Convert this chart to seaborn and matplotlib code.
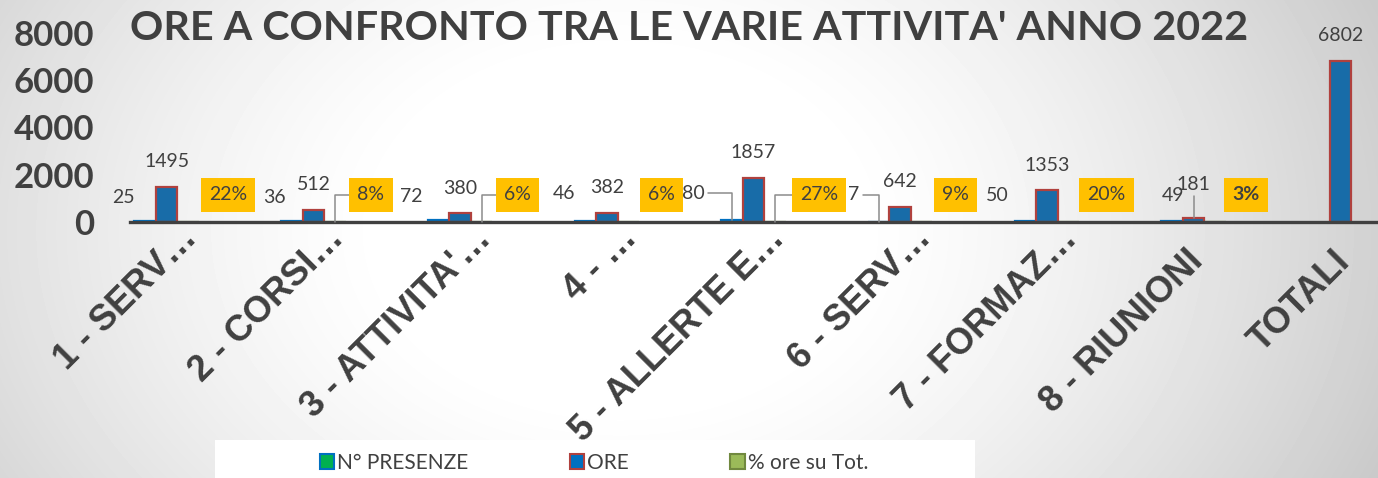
import numpy as np
import pandas as pd
import seaborn as sns
import matplotlib.pyplot as plt
from matplotlib.patches import Patch, Rectangle
from matplotlib.transforms import ScaledTranslation

# ======================================================
# DATI
# ======================================================

categorie = ["1 - SERV…", "2 - CORSI…", "3 - ATTIVITA'…", "4 - …", "5 - ALLERTE E…",
             "6 - SERV…", "7 - FORMAZ…", "8 - RIUNIONI", "TOTALI"]
presenze = [25, 36, 72, 46, 80, 7, 50, 49]
ore = [1495, 512, 380, 382, 1857, 642, 1353, 181, 6802]
perc_ore = [22, 8, 6, 6, 27, 9, 20, 3]

serie = ["N° PRESENZE", "ORE", "% ore su Tot."]
titolo = "ORE A CONFRONTO TRA LE VARIE ATTIVITA' ANNO 2022"

# ======================================================
# TABELLA (categorie su slot pari, slot dispari vuoti)
# ======================================================

righe = []
for i, v in enumerate(presenze):
    righe.append({"pos": 2 * i, "serie": serie[0], "valore": v})
for i, v in enumerate(ore):
    righe.append({"pos": 2 * i, "serie": serie[1], "valore": v})
for i, v in enumerate(perc_ore):
    righe.append({"pos": 2 * i, "serie": serie[2], "valore": v / 100})
df = pd.DataFrame(righe)

# ======================================================
# STILE
# ======================================================

sns.set_style("white")
plt.rcParams["font.family"] = ["Lato", "DejaVu Sans"]
grigio = "#404040"

fill = ["#00B050", "#0070C0", "#9BBB59"]
bordi = ["#0070C0", "#B0413E", "#71893F"]

W, H = 1378, 478
fig = plt.figure(figsize=(W / 100, H / 100), dpi=100)

# sfondo sfumato radiale
bg = fig.add_axes([0, 0, 1, 1], zorder=-10)
yy, xx = np.mgrid[0:H, 0:W]
r = np.hypot((xx - 620) / 760, (yy - 230) / 560)
scuro = 0.289 * np.clip(r - 0.3, 0, None) ** 1.33
bg.imshow(np.clip(1 - scuro, 0, 1), cmap="gray", vmin=0, vmax=1, aspect="auto")
bg.axis("off")

ax = fig.add_axes([130 / W, 256 / H, 1247 / W, 189 / H])
ax.set_facecolor("none")

sns.barplot(
    data=df, x="pos", y="valore", hue="serie", hue_order=serie,
    native_scale=True, width=0.44, palette=fill, errorbar=None,
    legend=False, ax=ax
)

for cont, col in zip(ax.containers, bordi):
    for b in cont:
        b.set_edgecolor(col)
        b.set_linewidth(1.6)

# ======================================================
# ASSI
# ======================================================

ax.set_xlim(-0.5, 16.5)
ax.set_ylim(0, 8000)
ax.set_xlabel("")
ax.set_ylabel("")
for s in ["top", "right", "left"]:
    ax.spines[s].set_visible(False)
ax.spines["bottom"].set_color(grigio)
ax.spines["bottom"].set_linewidth(2.4)

ax.set_yticks(range(0, 8001, 2000))
ax.set_yticklabels([str(v) for v in range(0, 8001, 2000)],
                   fontsize=25, fontweight="bold", color=grigio)
ax.tick_params(axis="y", length=0, pad=26)

ax.set_xticks([2 * i for i in range(len(categorie))])
ax.set_xticks(np.arange(-0.5, 17, 1), minor=True)
ax.set_xticklabels(categorie, rotation=45, ha="right", va="top",
                   rotation_mode="anchor", fontsize=26, fontweight="bold",
                   color=grigio, family="Liberation Sans")
ax.tick_params(axis="x", which="major", length=0, pad=20)
ax.tick_params(axis="x", which="minor", length=7.5, width=2.2, color=grigio)

# etichette troncate (…) sporgono oltre il centro come in Excel
for t in ax.get_xticklabels():
    if t.get_text().endswith("…"):
        dx, dy = 13, 29
    else:
        dx, dy = -8, 6
    t.set_transform(t.get_transform() + ScaledTranslation(dx / 100, dy / 100, fig.dpi_scale_trans))

# ======================================================
# ETICHETTE DATI
# ======================================================

lab_font = dict(fontsize=14, color=grigio, ha="center", va="center")
leader = dict(arrowstyle="-", color="#8c8c8c", lw=1.1,
              connectionstyle="angle,angleA=0,angleB=90,rad=0",
              shrinkA=0, shrinkB=0)

off_presenze = [(-22, 24), (-17, 24), (-27, 24), (-21, 27), (-39, 27), (-25, 27), (-28, 25), (1, 25)]
lead_presenze = [4, 5]
off_ore = [(0, 25), (0, 25), (0, 25), (0, 25), (0, 26), (0, 25), (0, 25), (0, 33), (0, 26)]
lead_ore = [7]
off_perc = [(40, 27), (36, 27), (36, 27), (33, 27), (44, 27), (34, 27), (38, 27), (31, 27)]
lead_perc = [1, 2, 4]

barre_p, barre_o, barre_c = ax.containers[0], ax.containers[1], ax.containers[2]

for i, b in enumerate(barre_p):
    xc = b.get_x() + b.get_width() / 2
    ax.annotate(str(presenze[i]), (xc, b.get_height()), xytext=off_presenze[i],
                textcoords="offset pixels", zorder=5,
                arrowprops=leader if i in lead_presenze else None, **lab_font)

for i, b in enumerate(barre_o):
    xc = b.get_x() + b.get_width() / 2
    ax.annotate(str(ore[i]), (xc, b.get_height()), xytext=off_ore[i],
                textcoords="offset pixels", zorder=6,
                arrowprops=leader if i in lead_ore else None, **lab_font)

for i, b in enumerate(barre_c):
    xc = b.get_x() + b.get_width() / 2
    ax.annotate(f"{perc_ore[i]}%", (xc, b.get_height()), xytext=off_perc[i],
                textcoords="offset pixels", zorder=7,
                fontweight="bold" if i == len(perc_ore) - 1 else "normal",
                bbox=dict(boxstyle="square,pad=0.42", fc="#FFC000", ec="none"),
                arrowprops=leader if i in lead_perc else None, **lab_font)

# ======================================================
# TITOLO E LEGENDA
# ======================================================

fig.text(0.5, 1 - 29 / H, titolo, ha="center", va="center",
         fontsize=29.7, fontweight="bold", color=grigio)

fig.patches.append(Rectangle((215 / W, 0), 760 / W, 38 / H, transform=fig.transFigure,
                             fc="white", ec="none", zorder=1))
maniglie = [Patch(facecolor=f, edgecolor=e, linewidth=1.5) for f, e in zip(fill, bordi)]
leg = fig.legend(maniglie, serie, loc="center", bbox_to_anchor=(594 / W, 1 - 463 / H),
                 ncol=3, frameon=False, fontsize=15, handlelength=0.7, handleheight=0.7,
                 handletextpad=0.15, columnspacing=4.85, labelcolor=grigio)
leg.set_zorder(2)

plt.savefig("out.png", dpi=100)
